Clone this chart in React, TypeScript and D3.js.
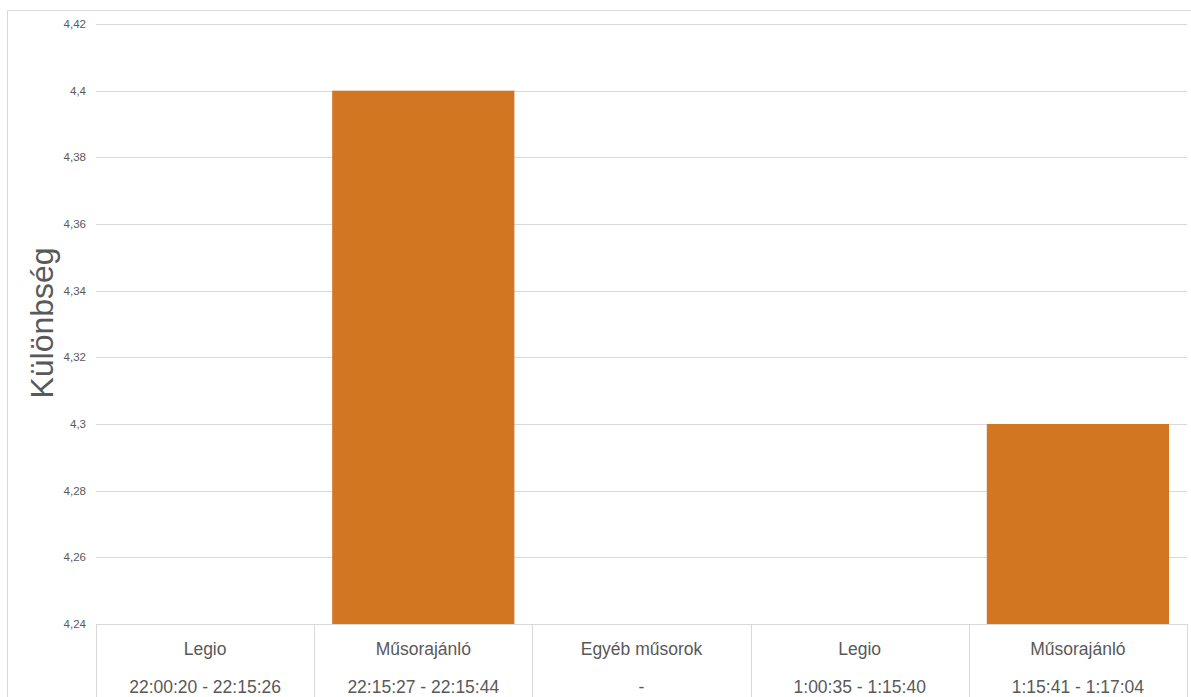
import React from "react";
import * as d3 from "d3";

const categories = ["Legio", "Műsorajánló", "Egyéb műsorok", "Legio", "Műsorajánló"];
const timeRanges = ["22:00:20 - 22:15:26", "22:15:27 - 22:15:44", "-", "1:00:35 - 1:15:40", "1:15:41 - 1:17:04"];
const values: (number | null)[] = [null, 4.4, null, null, 4.3];
const yTicks = [4.24, 4.26, 4.28, 4.3, 4.32, 4.34, 4.36, 4.38, 4.4, 4.42];
const yTitle = "Különbség";

const W = 1191;
const H = 697;
const left = 96;
const right = 1187;
const top = 24;
const bottom = 624;
const font = "'Liberation Sans', Arial, sans-serif";
const barColor = "#D37622";
const gridColor = "#D9D9D9";
const textColor = "#595959";

export default function App() {
  const x = d3
    .scaleBand<number>()
    .domain(categories.map((_, i) => i))
    .range([left, right])
    .paddingInner(0.165)
    .paddingOuter(0.0825);
  const y = d3.scaleLinear().domain([4.24, 4.42]).range([bottom, top]);
  const step = (right - left) / categories.length;
  const fmt = (v: number) => String(+v.toFixed(2)).replace(".", ",");

  return (
    <svg
      width={W}
      height={H}
      style={{ position: "absolute", left: 0, top: 0, display: "block", background: "#fff" }}
      fontFamily={font}
    >
      <rect x={0} y={0} width={W} height={H} fill="#fff" />
      <line x1={7.5} y1={10.5} x2={W} y2={10.5} stroke={gridColor} strokeWidth={1} />
      <line x1={7.5} y1={10.5} x2={7.5} y2={H} stroke={gridColor} strokeWidth={1} />
      {yTicks.map((t) => (
        <line
          key={"g" + t}
          x1={left}
          x2={right}
          y1={Math.round(y(t)) + 0.5}
          y2={Math.round(y(t)) + 0.5}
          stroke={gridColor}
          strokeWidth={1}
        />
      ))}
      {yTicks.map((t) => (
        <text
          key={"t" + t}
          x={86}
          y={y(t)}
          dy="0.35em"
          textAnchor="end"
          fontSize={11.5}
          fill={textColor}
        >
          {fmt(t)}
        </text>
      ))}
      {values.map((v, i) =>
        v == null ? null : (
          <rect
            key={"b" + i}
            x={x(i)!}
            y={y(v)}
            width={x.bandwidth()}
            height={y(4.24) - y(v)}
            fill={barColor}
          />
        )
      )}
      <line x1={left} x2={right} y1={bottom + 0.5} y2={bottom + 0.5} stroke={gridColor} />
      {d3.range(categories.length + 1).map((i) => (
        <line
          key={"d" + i}
          x1={Math.round(left + i * step) + 0.5}
          x2={Math.round(left + i * step) + 0.5}
          y1={bottom}
          y2={H}
          stroke={gridColor}
        />
      ))}
      {categories.map((c, i) => (
        <g key={"c" + i}>
          <text
            x={left + (i + 0.5) * step}
            y={655}
            textAnchor="middle"
            fontSize={17.5}
            fill={textColor}
          >
            {c}
          </text>
          <text
            x={left + (i + 0.5) * step}
            y={693}
            textAnchor="middle"
            fontSize={17.5}
            fill={textColor}
          >
            {timeRanges[i]}
          </text>
        </g>
      ))}
      <text
        transform={`translate(53, ${323}) rotate(-90)`}
        textAnchor="middle"
        fontSize={32}
        fill={textColor}
      >
        {yTitle}
      </text>
    </svg>
  );
}
